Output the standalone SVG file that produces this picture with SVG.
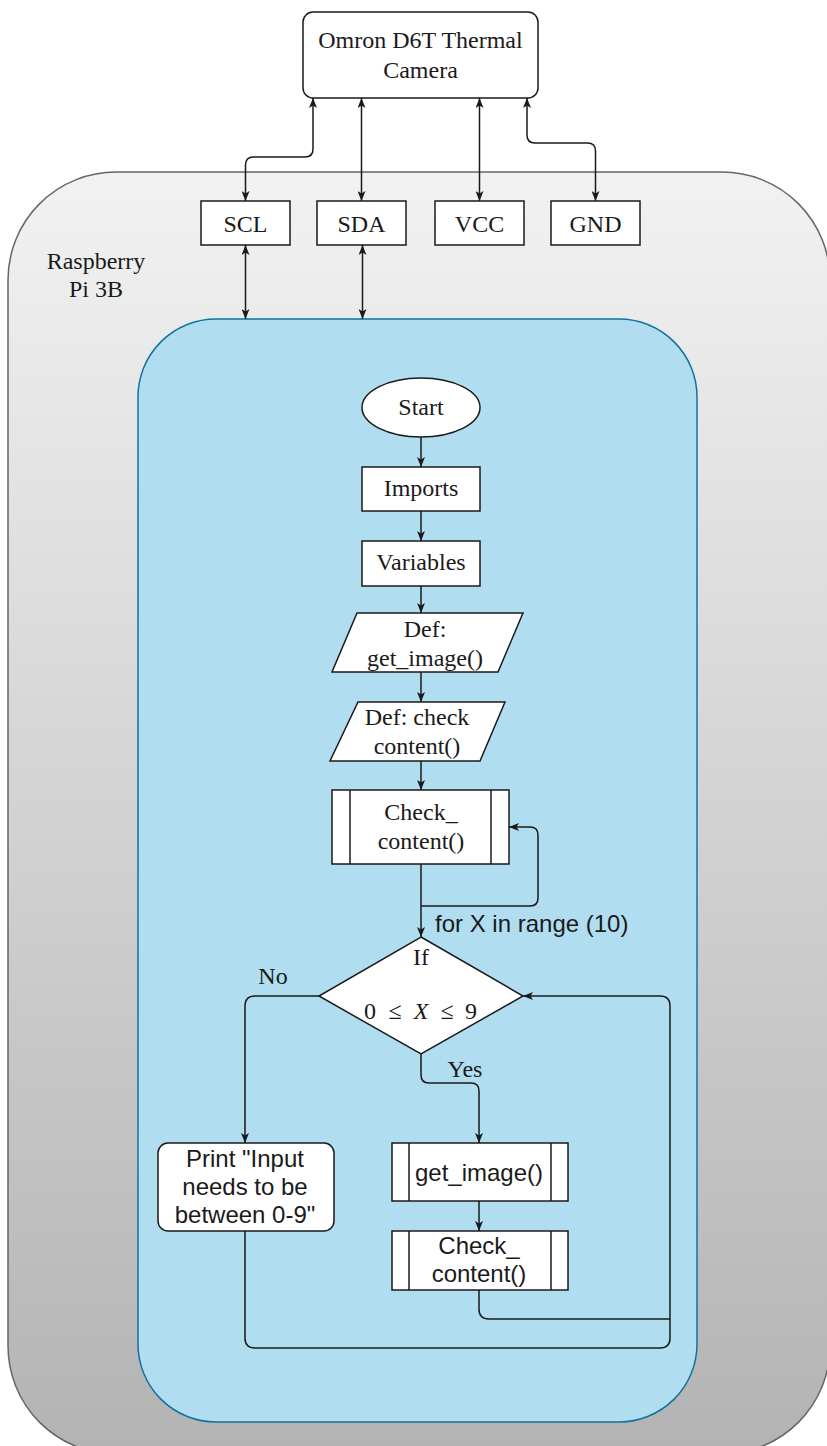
<svg xmlns="http://www.w3.org/2000/svg" width="827" height="1446" viewBox="0 0 827 1446">
<style>
.serif{font-family:"Liberation Serif","Times New Roman",serif;font-size:24px;fill:#1a1a1a;text-anchor:middle}
.sans{font-family:"Liberation Sans",Arial,sans-serif;font-size:24px;fill:#1a1a1a;text-anchor:middle}
.box{fill:#ffffff;stroke:#1a1a1a;stroke-width:1.5}
.ln{fill:none;stroke:#1a1a1a;stroke-width:1.5}
.conn path{fill:none;stroke:#1a1a1a;stroke-width:1.5}
</style>
<defs>
<linearGradient id="grey" x1="0" y1="0" x2="0" y2="1">
<stop offset="0" stop-color="#f2f2f2"/>
<stop offset="1" stop-color="#b3b3b3"/>
</linearGradient>
<marker id="arr" viewBox="0 0 10 8" refX="10" refY="4" markerWidth="10" markerHeight="8" orient="auto-start-reverse" markerUnits="userSpaceOnUse">
<path d="M0,0 L10,4 L0,8 L2.5,4 z" fill="#1a1a1a"/>
</marker>
</defs>

<g id="raspberry-pi">
<rect x="8" y="172" width="822" height="1282" rx="108" ry="108" fill="url(#grey)" stroke="#666666" stroke-width="1.5"/>
<text class="serif" x="96" y="269">Raspberry</text>
<text class="serif" x="96" y="297">Pi 3B</text>
</g>

<g id="program-area">
<rect x="138" y="319" width="559" height="1103" rx="78" ry="78" fill="#b1ddf0" stroke="#10739e" stroke-width="1.5"/>
</g>

<g id="camera">
<rect class="box" x="303" y="12" width="235" height="86" rx="10" ry="10"/>
<text class="serif" x="420.5" y="48">Omron D6T Thermal</text>
<text class="serif" x="420.5" y="78">Camera</text>
</g>

<g id="pin-scl"><rect class="box" x="201" y="201" width="89" height="44"/><text class="serif" x="245.5" y="232">SCL</text></g>
<g id="pin-sda"><rect class="box" x="317" y="201" width="89" height="44"/><text class="serif" x="361.5" y="232">SDA</text></g>
<g id="pin-vcc"><rect class="box" x="435" y="201" width="89" height="44"/><text class="serif" x="479.5" y="232">VCC</text></g>
<g id="pin-gnd"><rect class="box" x="551" y="201" width="89" height="44"/><text class="serif" x="595.5" y="232">GND</text></g>

<g id="start">
<ellipse class="box" cx="421" cy="407.5" rx="59" ry="29.5"/>
<text class="serif" x="421" y="415">Start</text>
</g>

<g id="imports">
<rect class="box" x="362" y="467" width="118" height="44"/>
<text class="serif" x="421" y="496">Imports</text>
</g>

<g id="variables">
<rect class="box" x="362" y="541" width="118" height="45"/>
<text class="serif" x="421" y="570">Variables</text>
</g>

<g id="def-get-image">
<polygon class="box" points="357,613 523,613 498,672 332,672"/>
<text class="serif" x="425" y="637">Def:</text>
<text class="serif" x="425" y="666">get_image()</text>
</g>

<g id="def-check-content">
<polygon class="box" points="358,702 505,702 480,761 330,761"/>
<text class="serif" x="417" y="725">Def: check</text>
<text class="serif" x="417" y="754">content()</text>
</g>

<g id="check-content-1">
<rect class="box" x="332" y="790" width="177" height="74"/>
<line class="ln" x1="350" y1="790" x2="350" y2="864"/>
<line class="ln" x1="491" y1="790" x2="491" y2="864"/>
<text class="serif" x="421" y="820">Check_</text>
<text class="serif" x="421" y="849">content()</text>
</g>

<g id="decision">
<polygon class="box" points="421,937 523,996 421,1054 319,996"/>
<text class="serif" x="421" y="965">If</text>
<text class="serif" y="1019"><tspan x="370">0</tspan><tspan x="395">≤</tspan><tspan x="421" font-style="italic">X</tspan><tspan x="447">≤</tspan><tspan x="471">9</tspan></text>
</g>

<g id="print-error">
<rect class="box" x="158" y="1143" width="176" height="88" rx="10" ry="10"/>
<text class="sans" x="245" y="1167">Print "Input</text>
<text class="sans" x="245" y="1195">needs to be</text>
<text class="sans" x="245" y="1223">between 0-9"</text>
</g>

<g id="get-image">
<rect class="box" x="392" y="1143" width="176" height="58"/>
<line class="ln" x1="409" y1="1143" x2="409" y2="1201"/>
<line class="ln" x1="551" y1="1143" x2="551" y2="1201"/>
<text class="sans" x="479" y="1181">get_image()</text>
</g>

<g id="check-content-2">
<rect class="box" x="392" y="1231" width="176" height="59"/>
<line class="ln" x1="409" y1="1231" x2="409" y2="1290"/>
<line class="ln" x1="551" y1="1231" x2="551" y2="1290"/>
<text class="sans" x="479" y="1254">Check_</text>
<text class="sans" x="479" y="1282">content()</text>
</g>

<g id="connectors" class="conn">
<path d="M245.5,201 L245.5,165 Q245.5,157 253.5,157 L305,157 Q313,157 313,149 L313,98" marker-start="url(#arr)" marker-end="url(#arr)"/>
<path d="M361.5,201 L361.5,98" marker-start="url(#arr)" marker-end="url(#arr)"/>
<path d="M479.5,201 L479.5,98" marker-start="url(#arr)" marker-end="url(#arr)"/>
<path d="M595.5,201 L595.5,151 Q595.5,143 587.5,143 L535,143 Q527,143 527,135 L527,98" marker-start="url(#arr)" marker-end="url(#arr)"/>
<path d="M245.5,245 L245.5,319" marker-start="url(#arr)" marker-end="url(#arr)"/>
<path d="M362.5,245 L362.5,319" marker-start="url(#arr)" marker-end="url(#arr)"/>
<path d="M421,437 L421,467" marker-end="url(#arr)"/>
<path d="M421,511 L421,541" marker-end="url(#arr)"/>
<path d="M421,586 L421,613" marker-end="url(#arr)"/>
<path d="M421,672 L421,702" marker-end="url(#arr)"/>
<path d="M421,761 L421,790" marker-end="url(#arr)"/>
<path d="M421,864 L421,937" marker-end="url(#arr)"/>
<path d="M421,906 L530,906 Q538,906 538,898 L538,835 Q538,827 530,827 L509,827" marker-end="url(#arr)"/>
<path d="M319,996 L255,996 Q245,996 245,1006 L245,1143" marker-end="url(#arr)"/>
<path d="M421,1054 L421,1075 Q421,1083 429,1083 L471,1083 Q479,1083 479,1091 L479,1143" marker-end="url(#arr)"/>
<path d="M479,1201 L479,1231" marker-end="url(#arr)"/>
<path d="M479,1290 L479,1309 Q479,1319 489,1319 L670,1319"/>
<path d="M245,1231 L245,1338 Q245,1348 255,1348 L660,1348 Q670,1348 670,1338 L670,1006 Q670,996 660,996 L523,996" marker-end="url(#arr)"/>
<text class="sans" x="435" y="932" style="text-anchor:start">for X in range (10)</text>
<text class="serif" x="273" y="984">No</text>
<text class="serif" x="465" y="1077">Yes</text>
</g>
</svg>
